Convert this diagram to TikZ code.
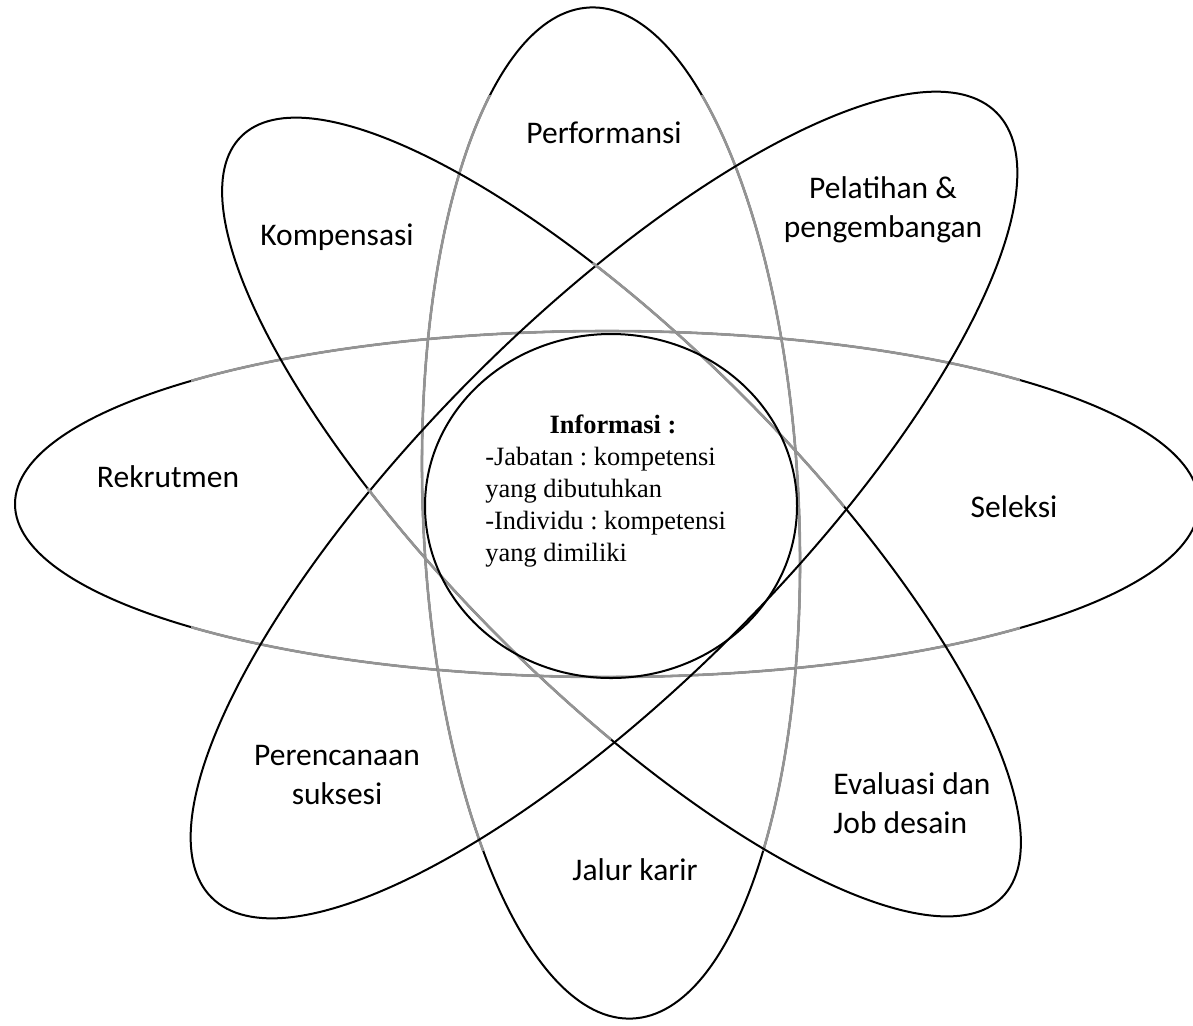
\documentclass[tikz,border=0pt]{standalone}
\usepackage{fontspec}
\setmainfont{Carlito}
\newfontfamily\srf{Liberation Serif}
\frenchspacing
\begin{document}
\begin{tikzpicture}[x=0.5pt,y=-0.5pt,
  ol/.style={line width=1pt, black},
  gr/.style={line width=1.3pt, black!42},
  lbl/.style={font=\fontsize{15.75}{19.5}\selectfont, inner sep=0pt},
  info/.style={font=\srf\fontsize{13.2}{16}\selectfont, inner sep=0pt}]
\useasboundingbox (0,0) rectangle (1193,1025);
\clip (0,0) rectangle (1193,1025);
% horizontal ellipse
\draw[ol] (607,504) ellipse [x radius=592, y radius=173];
\begin{scope}
  \clip (191,0) rectangle (1020,1025);
  \draw[gr] (607,504) ellipse [x radius=592, y radius=173];
\end{scope}
% vertical ellipse
\draw[ol, rotate around={2.4:(611,513)}] (611,513) ellipse [x radius=188, y radius=506];
\begin{scope}
  \clip (0,95) rectangle (1193,850);
  \draw[gr, rotate around={2.4:(611,513)}] (611,513) ellipse [x radius=188, y radius=506];
\end{scope}
% NE-SW ellipse
\draw[ol, rotate around={45:(604,505)}] (604,505) ellipse [x radius=555, y radius=183];
% NW-SE ellipse
\draw[ol, rotate around={-45:(621.5,517)}] (621.5,517) ellipse [x radius=538, y radius=171.5];
\begin{scope}
  \clip[rotate around={-45:(621.5,517)}] (421.5,217) rectangle (771.5,817);
  \draw[gr, rotate around={-45:(621.5,517)}] (621.5,517) ellipse [x radius=538, y radius=171.5];
\end{scope}
% centre circle
\draw[ol] (611,506) ellipse [x radius=186, y radius=172];
% labels (base anchor of a multi-line node = baseline of its last line)
\node[lbl, anchor=base] (perf) at (604,143) {Performansi};
\node[lbl, anchor=base] (komp) at (337,245) {Kompensasi};
\node[lbl, anchor=base, align=center] (pel) at (883,237) {Pelatihan \&\\pengembangan};
\node[lbl, anchor=base] (rek) at (168,487) {Rekrutmen};
\node[lbl, anchor=base] (sel) at (1014,517) {Seleksi};
\node[lbl, anchor=base, align=center] (per) at (337,804) {Perencanaan\\suksesi};
\node[lbl, anchor=base] (jal) at (635,880) {Jalur karir};
\node[lbl, anchor=base west, align=left] (eva) at (833,833) {Evaluasi dan\\Job desain};
\node[info, anchor=base] (inf) at (613,433) {\bfseries Informasi :};
\node[info, anchor=base west, align=left] (isi) at (485,561) {-Jabatan : kompetensi\\yang dibutuhkan\\-Individu : kompetensi\\yang dimiliki};
\end{tikzpicture}
\end{document}
